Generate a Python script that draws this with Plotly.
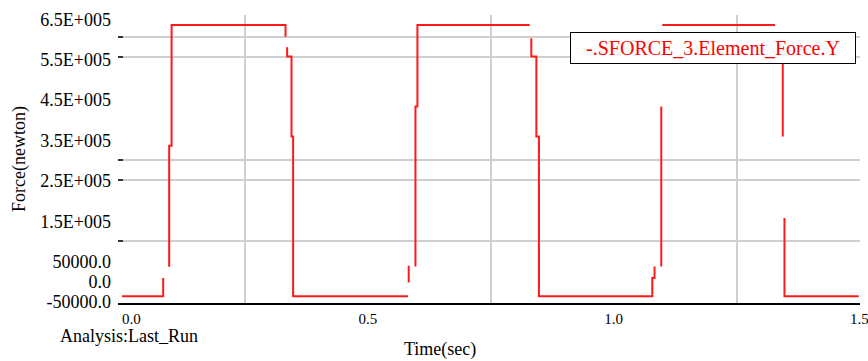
import plotly.graph_objects as go

# SFORCE_3 element force (Y component) over the run, in newton.
# None entries split the trace where the recorded curve is broken.
time_s = [
    0.0, 0.0839, 0.0839, None,
    0.0961, 0.0961, 0.1010, 0.1010, 0.3327, 0.3327, None,
    0.3360, 0.3360, 0.3449, 0.3449, 0.3482, 0.3482, 0.5819, None,
    0.5833, 0.5833, None,
    0.5970, 0.5970, 0.6010, 0.6010, 0.8293, None,
    0.8327, 0.8327, 0.8429, 0.8429, 0.8482, 0.8482, 1.0787, 1.0787, 1.0833, 1.0833, None,
    1.0970, 1.0970, None,
    1.0990, 1.3286, None,
    1.3441, 1.3441, None,
    1.3476, 1.3476, 1.4986,
]
force_n = [
    -35600, -35600, 9400, None,
    37400, 336900, 336900, 636400, 636400, 607400, None,
    581200, 557900, 557900, 359900, 359900, -35600, -35600, None,
    -1500, 39900, None,
    38100, 434200, 434200, 636400, 636400, None,
    603500, 557900, 557900, 359900, 359900, -35600, -35600, 9400, 9400, 38100, None,
    38100, 434200, None,
    636400, 636400, None,
    603500, 359900, None,
    157900, -35600, -35600,
]

# Axis labelling
x_tick_vals = [0.0, 0.5, 1.0, 1.5]
x_tick_text = ["\u00a0\u00a0\u00a0\u00a0\u00a00.0", "0.5", "1.0", "1.5"]
x_grid_vals = [0.25, 0.75, 1.25]

y_tick_vals = [-50000, 0, 50000, 150000, 250000, 350000, 450000, 550000, 650000]
y_tick_text = ["-50000.0", "0.0", "50000.0", "1.5E+005", "2.5E+005", "3.5E+005",
               "4.5E+005", "5.5E+005", "6.5E+005"]
y_grid_vals = [100000, 253000, 302000, 558000, 607000]

series_name = "-.SFORCE_3.Element_Force.Y"
run_label = "Analysis:Last_Run"

SERIF = "Liberation Serif, Times New Roman, serif"
GRID = "#cfcfcf"

fig = go.Figure()
fig.add_trace(go.Scatter(
    x=time_s, y=force_n, mode="lines", name=series_name,
    line=dict(color="#ff1a1a", width=2), connectgaps=False, showlegend=False,
))

fig.update_layout(
    width=868, height=361,
    margin=dict(l=118, r=8, t=15, b=58, autoexpand=False),
    paper_bgcolor="white", plot_bgcolor="white",
    font=dict(family=SERIF, color="black"),
    xaxis=dict(
        range=[-0.008, 1.5012], tickvals=x_tick_vals, ticktext=x_tick_text,
        showgrid=False, zeroline=False, ticks="", automargin=False,
        showline=True, linecolor="black", linewidth=2,
        tickfont=dict(family=SERIF, size=15, color="black"),
        ticklabelstandoff=1, ticklabeloverflow="allow",
        minor=dict(tickvals=x_grid_vals, showgrid=True, gridcolor=GRID, gridwidth=2, ticks=""),
    ),
    yaxis=dict(
        range=[-52500, 661000], tickvals=y_tick_vals, ticktext=y_tick_text,
        showgrid=False, zeroline=False, ticks="", showline=False, automargin=False,
        tickfont=dict(family=SERIF, size=18, color="black"),
        ticklabelstandoff=6,
        title=dict(text="Force(newton)", font=dict(family=SERIF, size=18, color="black"),
                   standoff=10),
        minor=dict(tickvals=y_grid_vals, showgrid=True, gridcolor=GRID, gridwidth=2,
                   ticks="inside", ticklen=5, tickwidth=2, tickcolor="#333333"),
    ),
    annotations=[
        dict(text=series_name, xref="paper", yref="paper",
             x=0.9946, y=0.942, xanchor="right", yanchor="top",
             showarrow=False, font=dict(family=SERIF, size=20, color="#ff0000"),
             bgcolor="white", bordercolor="black", borderwidth=1, borderpad=3,
             width=278, height=24, align="center"),
        dict(text=run_label, xref="paper", yref="paper",
             x=-0.0809, y=-0.115, xanchor="left", yanchor="middle",
             showarrow=False, font=dict(family=SERIF, size=18, color="black")),
        dict(text="Time(sec)", xref="paper", yref="paper",
             x=0.434, y=-0.162, xanchor="center", yanchor="middle",
             showarrow=False, font=dict(family=SERIF, size=18, color="black")),
    ],
)

fig.write_html("out.html")
